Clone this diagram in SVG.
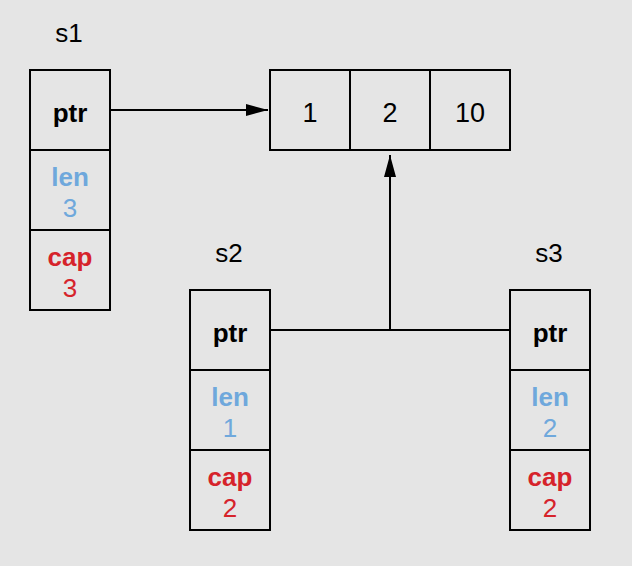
<svg xmlns="http://www.w3.org/2000/svg" width="632" height="566" viewBox="0 0 632 566">
<style>
.box{fill:none;stroke:#000;stroke-width:2}
.t{font-family:"Liberation Sans",Arial,sans-serif;font-size:26px;text-anchor:middle;fill:#000}
.b{font-weight:bold}
.len{fill:#6fa8dc}
.cap{fill:#d6232b}
.arr{font-size:27px}
.conn{fill:none;stroke:#000;stroke-width:2}
</style>
<defs>
<marker id="ah" viewBox="0 0 22 12" refX="22" refY="6" markerWidth="22" markerHeight="12" markerUnits="userSpaceOnUse" orient="auto">
<path d="M0,0 L22,6 L0,12 z" fill="#000"/>
</marker>
</defs>
<rect width="632" height="566" fill="#e5e5e5"/>
<g id="s1">
<text class="t" x="69" y="42">s1</text>
<rect class="box" x="30" y="70" width="80" height="240"/>
<line class="box" x1="30" y1="150" x2="110" y2="150"/>
<line class="box" x1="30" y1="230" x2="110" y2="230"/>
<text class="t b" x="70" y="122">ptr</text>
<text class="t b len" x="70" y="186">len</text>
<text class="t len" x="70" y="217">3</text>
<text class="t b cap" x="70" y="266">cap</text>
<text class="t cap" x="70" y="297">3</text>
</g>
<g id="array">
<rect class="box" x="270" y="70" width="240" height="80"/>
<line class="box" x1="350" y1="70" x2="350" y2="150"/>
<line class="box" x1="430" y1="70" x2="430" y2="150"/>
<text class="t arr" x="310" y="122">1</text>
<text class="t arr" x="390" y="122">2</text>
<text class="t arr" x="470" y="122">10</text>
</g>
<g id="s2">
<text class="t" x="229" y="262">s2</text>
<rect class="box" x="190" y="290" width="80" height="240"/>
<line class="box" x1="190" y1="370" x2="270" y2="370"/>
<line class="box" x1="190" y1="450" x2="270" y2="450"/>
<text class="t b" x="230" y="342">ptr</text>
<text class="t b len" x="230" y="406">len</text>
<text class="t len" x="230" y="437">1</text>
<text class="t b cap" x="230" y="486">cap</text>
<text class="t cap" x="230" y="517">2</text>
</g>
<g id="s3">
<text class="t" x="549" y="262">s3</text>
<rect class="box" x="510" y="290" width="80" height="240"/>
<line class="box" x1="510" y1="370" x2="590" y2="370"/>
<line class="box" x1="510" y1="450" x2="590" y2="450"/>
<text class="t b" x="550" y="342">ptr</text>
<text class="t b len" x="550" y="406">len</text>
<text class="t len" x="550" y="437">2</text>
<text class="t b cap" x="550" y="486">cap</text>
<text class="t cap" x="550" y="517">2</text>
</g>
<g id="connectors">
<line class="conn" x1="110" y1="110" x2="268" y2="110" marker-end="url(#ah)"/>
<line class="conn" x1="270" y1="330" x2="510" y2="330"/>
<line class="conn" x1="390" y1="330" x2="390" y2="155" marker-end="url(#ah)"/>
</g>
</svg>
